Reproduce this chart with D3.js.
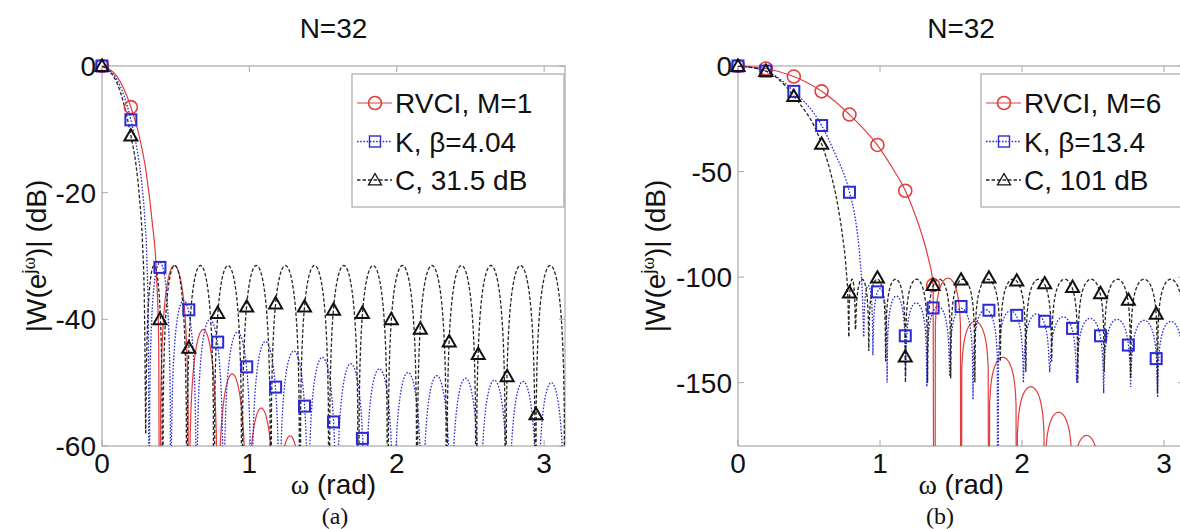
<!DOCTYPE html>
<html><head><meta charset="utf-8">
<script src="https://cdn.jsdelivr.net/npm/d3@7"></script>
<style>body{margin:0;background:#fff}svg{display:block}</style>
</head><body><svg id="c" width="1180" height="529"></svg>
<script>
// ---------------- data ----------------
const titleText = "N=32";
const xTicks = [0, 1, 2, 3];
const aYTicks = [0, -20, -40, -60];
const bYTicks = [0, -50, -100, -150];
const markerOmega = [0, 0.196, 0.393, 0.589, 0.785, 0.982, 1.178, 1.374, 1.571, 1.767, 1.963, 2.160, 2.356, 2.553, 2.749, 2.945];

// panel (a)
const aLegend = ["RVCI, M=1", "K, \u03b2=4.04", "C, 31.5 dB"];
const aRedMain = [[0,0],[0.1,-1.6],[0.196,-6.5],[0.25,-10.8],[0.3,-16.8],[0.34,-24.5],[0.37,-33],[0.385,-44]];
const aRedNulls = [0.393,0.589,0.785,0.982,1.178,1.374,1.571,1.767,1.963,2.160,2.356,2.553,2.749,2.945,3.1416];
const aRedDepths = [-100,-100,-100,-100,-100,-100,-100,-100,-100,-100,-100,-100,-100,-100,-100];
const aRedPeaks = [-31.5,-41.6,-48.6,-54,-58.4,-62,-65,-68,-70,-72,-74,-76,-78,-80];
const aRedMarks = [0,-6.5];

const aBlueMain = [[0,0],[0.1,-2.1],[0.196,-8.5],[0.24,-13.5],[0.27,-18.5],[0.29,-24],[0.305,-31],[0.315,-42]];
const aBlueNulls = [0.320,0.467,0.641,0.825,1.014,1.204,1.398,1.591,1.785,1.979,2.174,2.369,2.564,2.759,2.955,3.1416];
const aBlueDepths = [-100,-100,-100,-100,-100,-100,-100,-100,-100,-100,-100,-100,-100,-100,-100,-100];
const aBluePeaks = [-31,-37,-40,-42,-43.5,-45,-46,-47,-47.8,-48.4,-48.9,-49.3,-49.6,-49.8,-50];
const aBlueMarks = [0,-8.5,-31.8,-38.5,-43.6,-47.5,-50.7,-53.7,-56.2,-58.8];

const aBlackMain = [[0,0],[0.1,-2.6],[0.196,-11],[0.23,-15.5],[0.255,-21],[0.275,-28],[0.288,-38]];
const aBlackNulls = [0.296,0.411,0.576,0.760,0.950,1.145,1.343,1.541,1.740,1.939,2.138,2.339,2.539,2.739,2.941,3.1416];
const aBlackDepths = [-58,-100,-100,-100,-100,-100,-100,-100,-100,-100,-100,-100,-100,-100,-100,-100];
const aBlackPeaks = [-31.5,-31.5,-31.5,-31.5,-31.5,-31.5,-31.5,-31.5,-31.5,-31.5,-31.5,-31.5,-31.5,-31.5,-31.5];
const aBlackMarks = [0,-11,-40,-44.5,-39,-38,-37.5,-38,-38.5,-39,-40,-41.5,-43.5,-45.5,-49,-55];

// panel (b)
const bLegend = ["RVCI, M=6", "K, \u03b2=13.4", "C, 101 dB"];
const bRedMain = [[0,0],[0.196,-1.2],[0.393,-5],[0.589,-12],[0.785,-23],[0.982,-37.5],[1.08,-47.5],[1.178,-59],[1.25,-71],[1.30,-81],[1.34,-91],[1.374,-103.8]];
const bRedNulls = [1.385,1.571,1.767,1.963,2.160,2.356,2.553,2.749,2.945,3.1416];
const bRedDepths = [-400,-400,-400,-400,-400,-400,-400,-400,-400,-400];
const bRedPeaks = [-100.5,-121,-138,-152,-164,-175,-185,-195,-205];
const bRedMarks = [0,-1.2,-5,-12,-23,-37.4,-59.1,-103.8];

const bBlueMain = [[0,0],[0.196,-2.4],[0.393,-12],[0.589,-28.2],[0.68,-41],[0.785,-59.8],[0.83,-74],[0.86,-92],[0.877,-110]];
const bBlueNulls = [0.885,0.95,1.05,1.18,1.33,1.49,1.655,1.83,2.01,2.195,2.385,2.575,2.765,2.955,3.1416];
const bBlueDepths = [-128,-137,-150,-148,-152,-147,-158,-300,-150,-145,-150,-155,-152,-157,-160];
const bBluePeaks = [-104,-105.5,-109,-112.2,-113.9,-114.8,-115.4,-116,-117.4,-118.8,-119.5,-120,-120.5,-121];
const bBlueMarks = [0,-2.4,-12,-28.2,-59.8,-107,-127.8,-114.6,-113.9,-115.7,-118.1,-120.9,-124.3,-127.8,-132.2,-138.6];

const bBlackMain = [[0,0],[0.196,-2.4],[0.393,-14.3],[0.589,-36.9],[0.65,-50],[0.70,-65],[0.735,-80],[0.76,-95],[0.775,-112]];
const bBlackNulls = [0.78,0.827,0.921,1.040,1.179,1.335,1.498,1.668,1.847,2.027,2.209,2.393,2.579,2.765,2.954,3.1416];
const bBlackDepths = [-128,-125,-135,-140,-150,-150,-148,-150,-140,-145,-140,-150,-145,-148,-155,-160];
const bBlackPeaks = [-101,-101,-101,-101,-101,-101,-101,-101,-101,-101,-101,-101,-101,-101,-101];
const bBlackMarks = [0,-2.4,-14.3,-36.9,-107.3,-100.3,-137.7,-103.8,-101.2,-100.3,-101.7,-103,-104.7,-107.7,-110.8,-117.4];

// ---------------- drawing ----------------
const SANS = '"Liberation Sans", Arial, Helvetica, sans-serif';
const SERIF = '"Liberation Serif", "Times New Roman", serif';
const FS = 28;
const RED = "#e23c3c", BLUE = "#2b2bd6", BLACK = "#262626", AXIS = "#a8a8a8";
const svg = d3.select("#c");

// lobe path: each sidelobe spans two nulls and rises to its peak level
function lobePoints(nulls, peaks, depths) {
  const pts = [];
  const n = 40;
  for (let i = 0; i < peaks.length; i++) {
    const a = nulls[i], b = nulls[i + 1], P = peaks[i];
    for (let k = 0; k <= n; k++) {
      if (i > 0 && k === 0) continue;
      const t = k / n;
      let y;
      if (k === 0) y = depths[i];
      else if (k === n) y = depths[i + 1];
      else {
        y = P + 20 * Math.log10(Math.sin(Math.PI * t));
        y = Math.max(y, t < 0.5 ? depths[i] : depths[i + 1]);
      }
      pts.push([a + (b - a) * t, y]);
    }
  }
  return pts;
}

function drawPanel(cfg) {
  const x = d3.scaleLinear().domain([0, Math.PI]).range([cfg.left, cfg.right]);
  const y = d3.scaleLinear().domain([cfg.ymin, 0]).range([cfg.bottom, cfg.top]);
  const g = svg.append("g");
  const clipId = "clip" + cfg.id;
  svg.append("defs").append("clipPath").attr("id", clipId)
    .append("rect").attr("x", cfg.left).attr("y", cfg.top)
    .attr("width", cfg.right - cfg.left).attr("height", cfg.bottom - cfg.top);

  // axes box
  g.append("rect").attr("x", cfg.left).attr("y", cfg.top)
    .attr("width", cfg.right - cfg.left).attr("height", cfg.bottom - cfg.top)
    .attr("fill", "none").attr("stroke", AXIS).attr("stroke-width", 1.2);

  // ticks (inside, on all sides)
  const tl = 6;
  xTicks.forEach(t => {
    const px = x(t);
    g.append("line").attr("x1", px).attr("x2", px).attr("y1", cfg.bottom).attr("y2", cfg.bottom - tl).attr("stroke", AXIS);
    g.append("line").attr("x1", px).attr("x2", px).attr("y1", cfg.top).attr("y2", cfg.top + tl).attr("stroke", AXIS);
    g.append("text").attr("x", px).attr("y", cfg.bottom + 5).attr("dy", "0.8em")
      .attr("text-anchor", "middle").attr("font-family", SANS).attr("font-size", FS).attr("fill", "#111").text(t);
  });
  cfg.yTicks.forEach(t => {
    const py = y(t);
    g.append("line").attr("x1", cfg.left).attr("x2", cfg.left + tl).attr("y1", py).attr("y2", py).attr("stroke", AXIS);
    g.append("line").attr("x1", cfg.right).attr("x2", cfg.right - tl).attr("y1", py).attr("y2", py).attr("stroke", AXIS);
    g.append("text").attr("x", cfg.left - 6).attr("y", py).attr("dy", "0.36em")
      .attr("text-anchor", "end").attr("font-family", SANS).attr("font-size", FS).attr("fill", "#111").text(t);
  });

  // curves
  const lineMono = d3.line().x(d => x(d[0])).y(d => y(d[1])).curve(d3.curveMonotoneX);
  const lineLin = d3.line().x(d => x(d[0])).y(d => y(d[1]));
  const plot = g.append("g").attr("clip-path", `url(#${clipId})`);
  cfg.series.forEach(s => {
    const main = s.main.concat([[s.nulls[0], s.depths[0]]]);
    plot.append("path").attr("d", lineMono(main)).attr("fill", "none")
      .attr("stroke", s.color).attr("stroke-width", s.width).attr("stroke-dasharray", s.dash);
    plot.append("path").attr("d", lineLin(lobePoints(s.nulls, s.peaks, s.depths))).attr("fill", "none")
      .attr("stroke", s.color).attr("stroke-width", s.width).attr("stroke-dasharray", s.dash);
  });

  // markers
  cfg.series.forEach(s => {
    s.marks.forEach((v, i) => drawMarker(g, s.marker, x(markerOmega[i]), y(v), s.mcolor));
  });

  // title, labels
  const cx = (cfg.left + cfg.right) / 2;
  svg.append("text").attr("x", cx).attr("y", 28).attr("dy", "0.36em").attr("text-anchor", "middle")
    .attr("font-family", SANS).attr("font-size", FS).attr("fill", "#111").text(titleText);
  const xl = svg.append("text").attr("x", cx).attr("y", 484).attr("dy", "0.36em").attr("text-anchor", "middle")
    .attr("font-family", SANS).attr("font-size", FS).attr("fill", "#111");
  xl.append("tspan").attr("font-family", SERIF).text("\u03c9");
  xl.append("tspan").text(" (rad)");
  const yl = svg.append("text").attr("transform", `translate(${cfg.ylabX},${(cfg.top + cfg.bottom) / 2}) rotate(-90)`)
    .attr("text-anchor", "middle").attr("dy", "0.36em")
    .attr("font-family", SANS).attr("font-size", FS).attr("fill", "#111");
  yl.append("tspan").text("|W(e");
  yl.append("tspan").attr("dy", -11).attr("font-size", 19).text("j");
  yl.append("tspan").attr("font-size", 19).attr("font-family", SERIF).text("\u03c9");
  yl.append("tspan").attr("dy", 11).text(")| (dB)");
  svg.append("text").attr("x", cfg.capX).attr("y", 515).attr("dy", "0.36em").attr("text-anchor", "middle")
    .attr("font-family", SERIF).attr("font-size", 24).attr("fill", "#111").text(cfg.caption);

  // legend
  const L = cfg.legend;
  const lg = svg.append("g");
  lg.append("rect").attr("x", L.x).attr("y", L.y).attr("width", L.w).attr("height", L.h)
    .attr("fill", "#fff").attr("stroke", AXIS).attr("stroke-width", 1.2);
  cfg.series.forEach((s, i) => {
    const ly = L.y + 29 + i * 38.5;
    lg.append("line").attr("x1", L.x + 5).attr("x2", L.x + 40).attr("y1", ly).attr("y2", ly)
      .attr("stroke", s.color).attr("stroke-width", s.width).attr("stroke-dasharray", s.dash);
    drawMarker(lg, s.marker, L.x + 23, ly, s.mcolor, true);
    lg.append("text").attr("x", L.x + 43).attr("y", ly).attr("dy", "0.36em")
      .attr("font-family", SANS).attr("font-size", FS).attr("fill", "#111").text(cfg.labels[i]);
  });
}

function drawMarker(g, type, px, py, color, legend) {
  if (type === "o") {
    g.append("circle").attr("cx", px).attr("cy", py).attr("r", 6.5)
      .attr("fill", "none").attr("stroke", color).attr("stroke-width", 1.6);
  } else if (type === "s") {
    g.append("rect").attr("x", px - 5.5).attr("y", py - 5.5).attr("width", 11).attr("height", 11)
      .attr("fill", "none").attr("stroke", color).attr("stroke-width", legend ? 1.4 : 2);
  } else {
    const h = 6.5;
    g.append("path").attr("d", `M${px},${py - h}L${px + h},${py + h * 0.75}L${px - h},${py + h * 0.75}Z`)
      .attr("fill", "none").attr("stroke", color).attr("stroke-width", legend ? 1.3 : 2);
  }
}

const styles = {
  red:   {color: RED, width: 1.2, dash: null, marker: "o", mcolor: RED},
  blue:  {color: BLUE, width: 1.3, dash: "1.6,1.6", marker: "s", mcolor: BLUE},
  black: {color: BLACK, width: 1.3, dash: "3.5,2", marker: "^", mcolor: "#111"}
};

drawPanel({
  id: "a", left: 102, right: 565, top: 66, bottom: 446, ymin: -60, yTicks: aYTicks,
  ylabX: 36, capX: 335, caption: "(a)", labels: aLegend,
  legend: {x: 352, y: 74, w: 212, h: 133},
  series: [
    Object.assign({main: aRedMain, nulls: aRedNulls, peaks: aRedPeaks, depths: aRedDepths, marks: aRedMarks}, styles.red),
    Object.assign({main: aBlueMain, nulls: aBlueNulls, peaks: aBluePeaks, depths: aBlueDepths, marks: aBlueMarks}, styles.blue),
    Object.assign({main: aBlackMain, nulls: aBlackNulls, peaks: aBlackPeaks, depths: aBlackDepths, marks: aBlackMarks}, styles.black)
  ]
});
drawPanel({
  id: "b", left: 738, right: 738 + 142 * Math.PI, top: 66, bottom: 446, ymin: -180, yTicks: bYTicks,
  ylabX: 655, capX: 940, caption: "(b)", labels: bLegend,
  legend: {x: 981, y: 74, w: 215, h: 133},
  series: [
    Object.assign({main: bRedMain, nulls: bRedNulls, peaks: bRedPeaks, depths: bRedDepths, marks: bRedMarks}, styles.red),
    Object.assign({main: bBlueMain, nulls: bBlueNulls, peaks: bBluePeaks, depths: bBlueDepths, marks: bBlueMarks}, styles.blue),
    Object.assign({main: bBlackMain, nulls: bBlackNulls, peaks: bBlackPeaks, depths: bBlackDepths, marks: bBlackMarks}, styles.black)
  ]
});
</script></body></html>
